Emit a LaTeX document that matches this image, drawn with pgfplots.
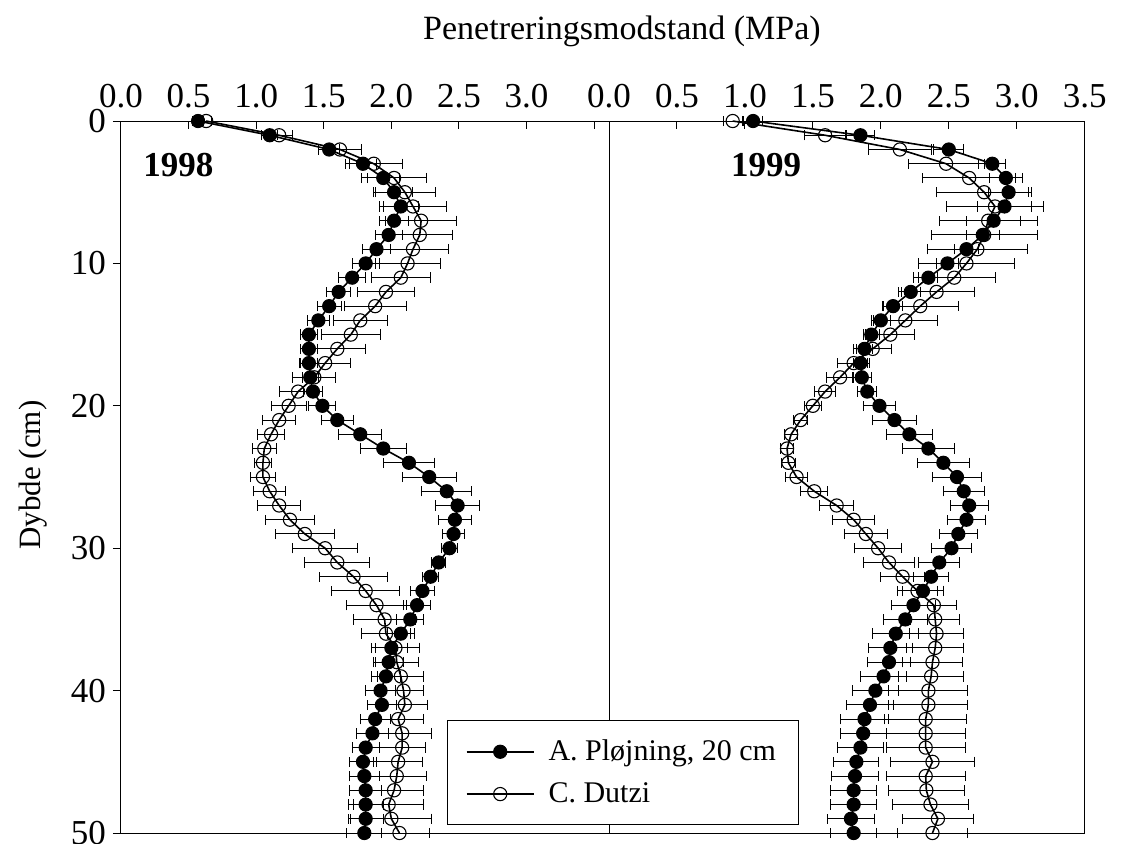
\documentclass[border=0pt]{standalone}
\usepackage{pgfplots}
\pgfplotsset{compat=1.18}
\usepackage{pgfplotstable}
\usepackage{fontspec}
\setmainfont{Liberation Serif}

\pgfplotstableread{
d A eA C eC
0 0.57 0.04 0.63 0.04
1 1.10 0.06 1.17 0.10
2 1.54 0.08 1.62 0.16
3 1.79 0.10 1.87 0.21
4 1.94 0.12 2.02 0.24
5 2.02 0.14 2.10 0.23
6 2.07 0.13 2.16 0.25
7 2.02 0.11 2.22 0.26
8 1.98 0.10 2.21 0.24
9 1.89 0.10 2.16 0.26
10 1.81 0.10 2.12 0.24
11 1.71 0.10 2.07 0.22
12 1.61 0.09 1.96 0.21
13 1.54 0.09 1.88 0.23
14 1.46 0.08 1.77 0.20
15 1.39 0.06 1.70 0.22
16 1.39 0.06 1.60 0.21
17 1.39 0.06 1.51 0.19
18 1.40 0.06 1.43 0.16
19 1.42 0.07 1.31 0.14
20 1.49 0.10 1.24 0.13
21 1.60 0.12 1.17 0.12
22 1.77 0.16 1.11 0.10
23 1.94 0.17 1.06 0.09
24 2.13 0.19 1.05 0.06
25 2.28 0.20 1.05 0.09
26 2.41 0.185 1.10 0.12
27 2.49 0.16 1.17 0.16
28 2.47 0.12 1.25 0.18
29 2.46 0.08 1.36 0.22
30 2.43 0.06 1.51 0.24
31 2.35 0.05 1.60 0.24
32 2.29 0.06 1.72 0.25
33 2.23 0.09 1.81 0.25
34 2.19 0.10 1.89 0.22
35 2.14 0.10 1.95 0.23
36 2.07 0.10 1.96 0.18
37 2.00 0.12 2.03 0.18
38 1.98 0.11 2.04 0.16
39 1.96 0.11 2.07 0.17
40 1.92 0.11 2.09 0.15
41 1.93 0.11 2.10 0.17
42 1.88 0.11 2.05 0.19
43 1.86 0.12 2.08 0.22
44 1.81 0.10 2.08 0.17
45 1.79 0.10 2.05 0.18
46 1.80 0.11 2.04 0.22
47 1.81 0.12 2.02 0.22
48 1.81 0.13 1.98 0.26
49 1.81 0.13 2.00 0.30
50 1.80 0.13 2.06 0.22
}\tA

\pgfplotstableread{
d A eA C eC
0 1.06 0.07 0.91 0.07
1 1.85 0.10 1.59 0.15
2 2.50 0.11 2.14 0.23
3 2.82 0.10 2.48 0.28
4 2.92 0.12 2.65 0.34
5 2.94 0.15 2.76 0.35
6 2.91 0.20 2.84 0.36
7 2.83 0.20 2.79 0.36
8 2.75 0.12 2.76 0.39
9 2.63 0.09 2.71 0.37
10 2.49 0.08 2.63 0.35
11 2.35 0.07 2.54 0.30
12 2.22 0.07 2.41 0.28
13 2.09 0.07 2.29 0.28
14 2.00 0.07 2.18 0.235
15 1.93 0.06 2.07 0.18
16 1.88 0.06 1.94 0.14
17 1.85 0.05 1.80 0.12
18 1.86 0.07 1.70 0.10
19 1.90 0.07 1.59 0.08
20 1.99 0.12 1.50 0.06
21 2.10 0.16 1.41 0.05
22 2.21 0.17 1.34 0.05
23 2.35 0.19 1.31 0.05
24 2.46 0.19 1.32 0.05
25 2.56 0.18 1.38 0.08
26 2.61 0.15 1.51 0.10
27 2.65 0.14 1.675 0.125
28 2.63 0.14 1.80 0.155
29 2.57 0.14 1.89 0.16
30 2.52 0.15 1.98 0.175
31 2.43 0.15 2.06 0.185
32 2.37 0.13 2.16 0.16
33 2.31 0.15 2.27 0.15
34 2.24 0.16 2.39 0.17
35 2.18 0.16 2.40 0.18
36 2.11 0.17 2.41 0.20
37 2.07 0.16 2.40 0.21
38 2.06 0.16 2.38 0.22
39 2.02 0.17 2.37 0.24
40 1.96 0.17 2.35 0.29
41 1.92 0.17 2.35 0.29
42 1.88 0.175 2.33 0.30
43 1.87 0.17 2.33 0.29
44 1.85 0.17 2.33 0.29
45 1.82 0.165 2.38 0.31
46 1.81 0.17 2.33 0.29
47 1.80 0.17 2.335 0.28
48 1.80 0.17 2.365 0.28
49 1.78 0.17 2.42 0.26
50 1.80 0.17 2.38 0.26
}\tB

\pgfplotsset{
  panel/.style={
    scale only axis, height=356pt,
    ymin=0, ymax=50, y dir=reverse,
    axis line style={line width=0.5pt},
    xtick pos=right, xticklabel pos=right,
    major tick length=4pt,
    every tick/.style={black, line width=0.5pt},
    tick label style={font=\fontsize{17.5}{20}\selectfont},
    xticklabel style={yshift=3pt},
    /pgf/number format/assume math mode=true,
    clip=false,
  },
  serC/.style={black, line width=0.8pt, mark=o, mark size=3.3pt,
    mark options={fill=white, line width=0.55pt, solid},
    error bars/.cd, x dir=both, x explicit,
    error bar style={line width=0.5pt},
    error mark options={line width=0.5pt, mark size=2.6pt, rotate=90}},
  serA/.style={black, line width=0.8pt, mark=*, mark size=3.3pt,
    mark options={fill=black, line width=0.5pt, solid},
    error bars/.cd, x dir=both, x explicit,
    error bar style={line width=0.5pt},
    error mark options={line width=0.5pt, mark size=2.6pt, rotate=90}},
}

\begin{document}
\begin{tikzpicture}[x=1pt,y=1pt]
\useasboundingbox (-60.5,-5) rectangle (503,416.5);

\begin{axis}[panel, at={(0pt,0pt)}, anchor=south west,
  width=244pt, xmin=0, xmax=3.61,
  xtick={0,0.5,1,1.5,2,2.5,3,3.5},
  xticklabels={0.0,0.5,1.0,1.5,2.0,2.5,3.0,{}},
  ytick={0,10,20,30,40,50}, ytick pos=left, ytick align=outside,
]
\addplot[serC] table[x=C, y=d, x error=eC] {\tA};
\addplot[serA] table[x=A, y=d, x error=eA] {\tA};
\end{axis}

\begin{axis}[panel, at={(244pt,0pt)}, anchor=south west,
  width=237.85pt, xmin=0, xmax=3.5,
  xtick={0,0.5,1,1.5,2,2.5,3,3.5},
  xticklabels={0.0,0.5,1.0,1.5,2.0,2.5,3.0,3.5},
  ytick=\empty,
  reverse legend,
  legend cell align=left,
  legend image code/.code={\draw[mark repeat=2,mark phase=2,#1] plot coordinates {(0pt,0pt) (16.75pt,0pt) (33.5pt,0pt)};},
  legend style={at={(axis description cs:0,0)}, anchor=south west,
    xshift=-80.8pt, yshift=4pt,
    font=\fontsize{15}{18}\selectfont, draw=black, line width=0.5pt, fill=white,
    inner xsep=9pt, inner ysep=7.5pt, row sep=5.5pt, column sep=5pt,
    nodes={inner ysep=2pt}},
]
\addplot[serC] table[x=C, y=d, x error=eC] {\tB};
\addlegendentry{C. Dutzi}
\addplot[serA] table[x=A, y=d, x error=eA] {\tB};
\addlegendentry{A. Pløjning, 20 cm}
\end{axis}

\node[anchor=base, font=\fontsize{17}{20}\selectfont] at (250.5,396.5) {Penetreringsmodstand (MPa)};
\node[rotate=90, font=\fontsize{15.5}{19}\selectfont] at (-44,179) {Dybde (cm)};
\node[anchor=base, font=\fontsize{17.5}{20}\selectfont\bfseries] at (28.7,328.2) {1998};
\node[anchor=base, font=\fontsize{17.5}{20}\selectfont\bfseries] at (322.5,328.2) {1999};
\end{tikzpicture}
\end{document}
